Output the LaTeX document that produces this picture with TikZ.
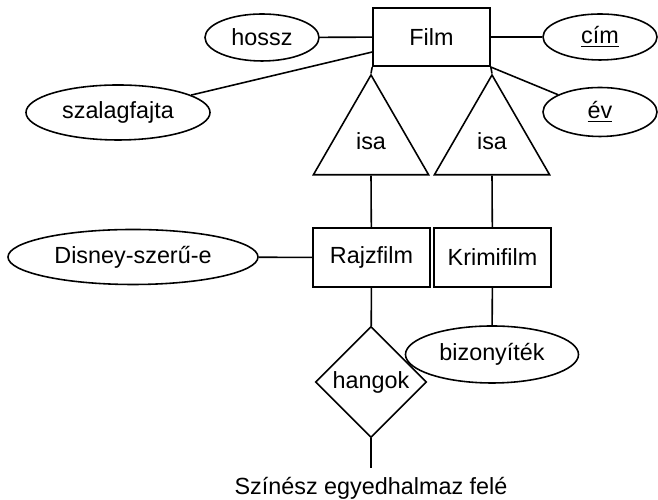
\documentclass[tikz,border=0pt]{standalone}
\usepackage{fontspec}
\setmainfont{Liberation Sans}
\usetikzlibrary{calc,shapes.geometric}

\begin{document}
\begin{tikzpicture}[every node/.style={font=\fontsize{13.3}{16}\selectfont},line width=0.9pt,entity/.style={draw,minimum width=2.34cm,minimum height=1.17cm,inner sep=0pt},attrib/.style={draw,ellipse,fill=white,inner sep=0pt},isatri/.style={draw,regular polygon,regular polygon sides=3,minimum size=2.66cm,inner sep=0pt},rel/.style={draw,diamond,aspect=1,minimum size=2.22cm,inner sep=0pt}]
\useasboundingbox (0,0) rectangle (13.16,10);

\node[entity] (film) at (8.63,9.26) {Film};
\node[attrib,minimum width=2.28cm,minimum height=0.94cm] (hossz) at (5.24,9.25) {hossz};
\node[attrib,minimum width=2.28cm,minimum height=0.92cm] (cim) at (12.0,9.26) {\underline{cím}};
\node[attrib,minimum width=2.28cm,minimum height=0.98cm] (ev) at (12.0,7.76) {\underline{év}};
\node[attrib,minimum width=3.68cm,minimum height=1.1cm] (szalag) at (2.36,7.75) {szalagfajta};
\node[isatri] (isa1) at (7.42,7.17) {isa};
\node[isatri] (isa2) at (9.84,7.17) {isa};
\node[entity] (rajz) at (7.43,4.85) {Rajzfilm};
\node[entity] (krimi) at (9.85,4.85) {Krimifilm};
\node[attrib,minimum width=5.0cm,minimum height=1.1cm] (disney) at (2.66,4.86) {Disney-szerű-e};
\node[rel] (hangok) at (7.42,2.36) {hangok};
\node[attrib,minimum width=3.46cm,minimum height=1.14cm] (bizony) at (9.84,2.91) {bizonyíték};
\node (szinesz) at (7.42,0.24) {Színész egyedhalmaz felé};
\coordinate (vege) at (7.42,0.64);

\draw (hossz) -- (film);
\draw (szalag) -- ($(film.west)!0.5!(film.south west)$);
\draw (film) -- (cim);
\draw (film.south east) -- (ev);
\draw (film.south west) -- (isa1.corner 1);
\draw (film.south east) -- (isa2.corner 1);
\draw (isa1.south) -- (rajz);
\draw (isa2.south) -- (krimi);
\draw (disney) -- (rajz);
\draw (rajz) -- (hangok);
\draw (krimi) -- (bizony);
\draw (hangok) -- (vege);

\end{tikzpicture}
\end{document}
